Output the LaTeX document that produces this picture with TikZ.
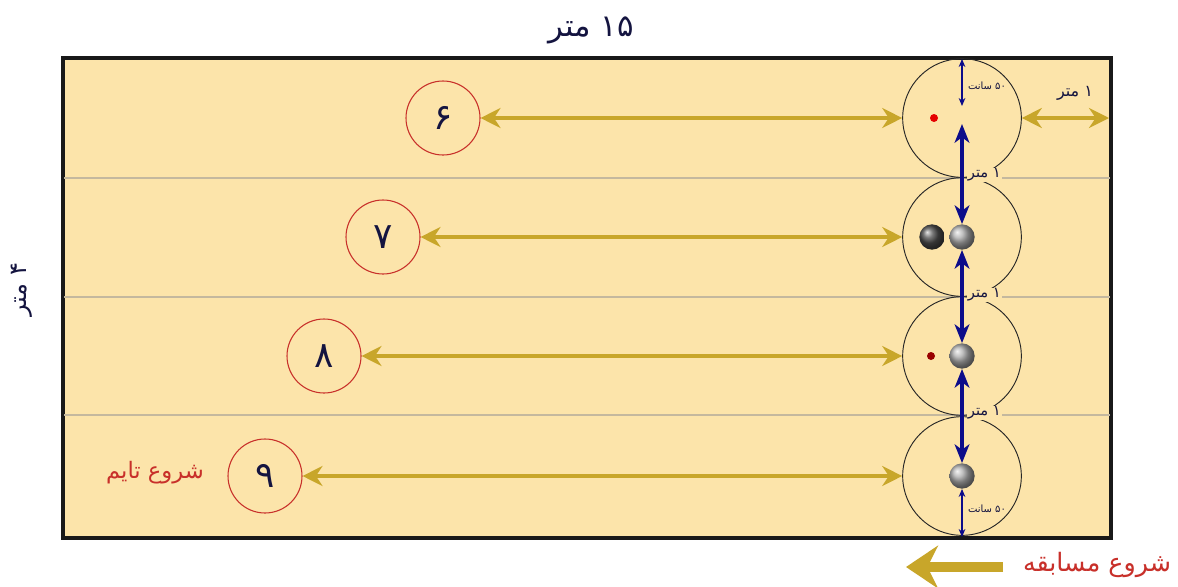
\documentclass[tikz,border=0pt]{standalone}
\usepackage{fontspec}
\TeXXeTstate=1
\newfontfamily\arabicfont[Script=Arabic]{DejaVu Sans}
\usetikzlibrary{arrows.meta}
\definecolor{fieldc}{HTML}{FCE4AA}
\definecolor{goldc}{HTML}{C8A62A}
\definecolor{navyc}{HTML}{0C0C8A}
\definecolor{redc}{HTML}{C8302A}
\definecolor{linec}{HTML}{C4B89E}
\definecolor{textc}{HTML}{141440}
\begin{document}
\begin{tikzpicture}[x=0.75pt,y=-0.75pt,
  field/.style={draw=black!90, line width=2.6pt, fill=fieldc},
  lane/.style={draw=linec, line width=1.6pt},
  numc/.style={circle, draw=redc, line width=0.8pt, minimum size=55.5pt, inner sep=0pt,
     font=\arabicfont\fontsize{27}{27}\selectfont, text=textc},
  bigc/.style={circle, draw=black!85, line width=0.7pt, minimum size=89pt, inner sep=0pt},
  goldarr/.style={draw=goldc, line width=3pt,
     {Stealth[length=15pt,width=15pt,inset=5pt]}-{Stealth[length=15pt,width=15pt,inset=5pt]}},
  bluearr/.style={draw=navyc, line width=2.6pt,
     {Stealth[length=14pt,width=11pt,inset=4pt]}-{Stealth[length=14pt,width=11pt,inset=4pt]}},
  thinarr/.style={draw=navyc, line width=0.8pt,
     {Stealth[length=6pt,width=5pt]}-{Stealth[length=6pt,width=5pt]}},
  small/.style={font=\arabicfont\fontsize{7.5}{7.5}\selectfont, text=textc, inner sep=1pt},
  meter/.style={font=\arabicfont\fontsize{11}{11}\selectfont, text=textc, inner sep=0.5pt,
     anchor=west, fill=fieldc},
  redtxt/.style={font=\arabicfont\fontsize{17}{17}\selectfont, text=redc},
  ballg/.style={circle, shading=ball, ball color=gray!65, minimum size=19pt, inner sep=0pt},
  balld/.style={circle, shading=ball, ball color=black!70, minimum size=19pt, inner sep=0pt},
]
\useasboundingbox (0,0) rectangle (1178,586);
% field
\draw[field] (63,58) rectangle (1111,538);
\foreach \yy in {178,297,415} \draw[lane] (64,\yy) -- (1110,\yy);

% big circles
\node[bigc] (c1) at (962,118) {};
\node[bigc] (c2) at (962,237) {};
\node[bigc] (c3) at (962,356) {};
\node[bigc] (c4) at (962,476) {};

% number circles
\node[numc] (n6) at (443,118) {\beginR ۶\endR};
\node[numc] (n7) at (383,237) {\beginR ۷\endR};
\node[numc] (n8) at (324,356) {\beginR ۸\endR};
\node[numc] (n9) at (265,476) {\beginR ۹\endR};

% gold arrows
\draw[goldarr] (n6) -- (c1);
\draw[goldarr] (n7) -- (c2);
\draw[goldarr] (n8) -- (c3);
\draw[goldarr] (n9) -- (c4);
\coordinate (re) at (1109,118);
\draw[goldarr] (c1.east) -- (re);
\node[font=\arabicfont\fontsize{12}{12}\selectfont, text=textc] (m0) at (1075,93) {\beginR ۱ متر\endR};

% balls and dots
\node[circle, fill=red!90!black, minimum size=6pt, inner sep=0pt] (d1) at (934,118) {};
\node[balld] (b2a) at (932,237) {};
\node[ballg] (b2) at (962,237) {};
\node[circle, fill=red!60!black, minimum size=6pt, inner sep=0pt] (d3) at (931,356) {};
\node[ballg] (b3) at (962,356) {};
\node[ballg] (b4) at (962,476) {};

% labels on lane lines (drawn before the blue arrows)
\node[meter] (m1) at (967,175) {\beginR ۱ متر\endR};
\node[meter] (m2) at (967,295) {\beginR ۱ متر\endR};
\node[meter] (m3) at (967,413) {\beginR ۱ متر\endR};

% blue measures
\coordinate (t0) at (962,59);
\coordinate (t1) at (962,106);
\coordinate (s1) at (962,124);
\coordinate (bt0) at (962,537);
\draw[thinarr] (t0) -- (t1);
\draw[bluearr] (s1) -- (b2.north);
\draw[bluearr] (b2.south) -- (b3.north);
\draw[bluearr] (b3.south) -- (b4.north);
\draw[thinarr] (b4.south) -- (bt0);
\node[small] (l50a) at (987,86) {\beginR ۵۰ سانت\endR};
\node[small] (l50b) at (987,509) {\beginR ۵۰ سانت\endR};

% outer labels
\node[font=\arabicfont\fontsize{23}{23}\selectfont, text=textc] (top) at (591,30) {\beginR ۱۵ متر\endR};
\node[font=\arabicfont\fontsize{18}{18}\selectfont, text=textc, rotate=90] (side) at (22,290) {\beginR ۴ متر\endR};
\node[redtxt] (st) at (155,473) {\beginR شروع تایم\endR};
\node[font=\arabicfont\fontsize{19}{19}\selectfont, text=redc] (sm) at (1097,565) {\beginR شروع مسابقه\endR};
\coordinate (ga) at (1003,567);
\coordinate (gb) at (906,567);
\draw[draw=goldc, line width=7pt, -{Stealth[length=24pt,width=32pt,inset=8pt]}] (ga) -- (gb);
\end{tikzpicture}
\end{document}
